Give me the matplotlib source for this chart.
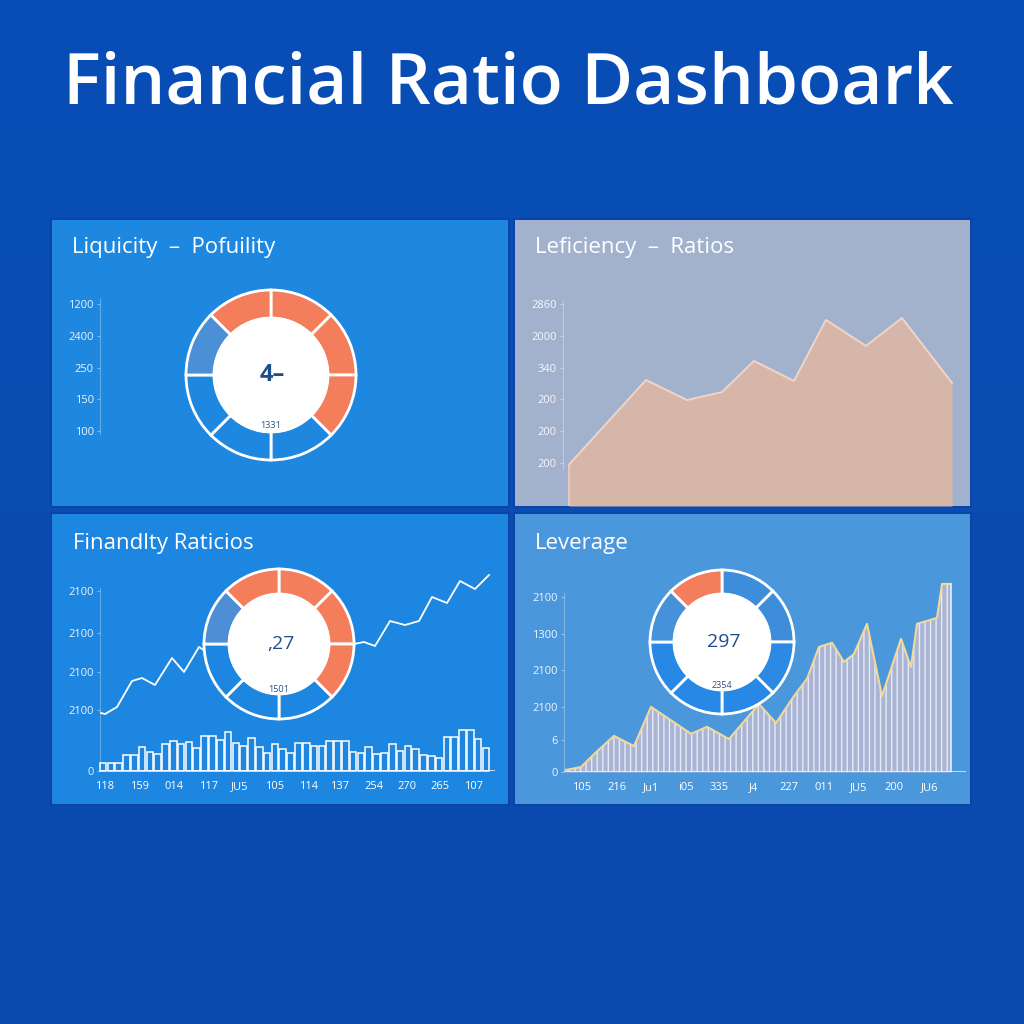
import numpy as np
import matplotlib.pyplot as plt
from matplotlib.patches import Rectangle, Circle
from matplotlib.colors import LinearSegmentedColormap

plt.rcParams['font.family'] = ['Open Sans', 'DejaVu Sans']

# ---- data ----
title = "Financial Ratio Dashboark"

# panel 1: liquidity donut
liq_title = "Liquicity  \u2013  Pofuility"
liq_ticks = [0, 1, 2, 3, 4]
liq_ticklabels = ["100", "150", "250", "2400", "1200"]
liq_segments = [1, 1, 1, 1, 1, 1, 1, 1]
liq_center, liq_sub = "4\u2013", "1331"

# panel 2: efficiency area
eff_title = "Leficiency  \u2013  Ratios"
eff_x = [0.6, 8.3, 12.4, 15.9, 19.1, 23.1, 26.3, 30.3, 33.9, 38.9]
eff_y = [-0.05, 2.61, 1.98, 2.23, 3.21, 2.58, 4.50, 3.68, 4.56, 2.52]
eff_ticks = [0, 1, 2, 3, 4, 5]
eff_ticklabels = ["200", "200", "200", "340", "2000", "2860"]

# panel 3: profitability bars + line + donut
prof_title = "Finandlty Raticios"
prof_bars = [0.8, 0.8, 0.85, 1.6, 1.6, 2.4, 1.9, 1.75, 2.7, 3.0,
             2.7, 2.9, 2.3, 3.5, 3.5, 3.1, 3.9, 2.85, 2.5, 3.3,
             2.4, 1.8, 2.7, 2.2, 1.8, 2.8, 2.8, 2.5, 2.5, 3.0,
             3.0, 3.0, 1.95, 1.85, 2.4, 1.7, 1.85, 2.7, 2.0, 2.5,
             2.2, 1.6, 1.5, 1.35, 3.4, 3.4, 4.1, 4.1, 3.2, 2.3]
prof_line_x = [0.1, 0.5, 1.7, 3.2, 4.2, 5.5, 7.2, 8.4, 9.9, 10.5, 12.5, 15.0,
               18.0, 21.5, 24.0, 25.4, 26.4, 27.5, 29.0, 30.5, 31.9, 33.2,
               34.7, 36.0, 37.5, 38.9]
prof_line_y = [5.8, 5.7, 6.4, 9.0, 9.3, 8.6, 11.3, 9.9, 12.4, 12.0, 13.1, 11.6,
               13.6, 11.9, 13.1, 12.7, 12.9, 12.5, 15.0, 14.6, 15.0, 17.4,
               16.8, 19.0, 18.2, 19.6]
prof_ticks = [0, 6.1, 9.9, 13.8, 18.0]
prof_ticklabels = ["0", "2100", "2100", "2100", "2100"]
prof_xticks = [0.5, 4.0, 7.4, 10.9, 14.0, 17.5, 20.9, 24.0, 27.4, 30.7, 34.0, 37.4]
prof_xlabels = ["118", "159", "014", "117", "JU5", "105", "114", "137", "254",
                "270", "265", "107"]
prof_segments = [1, 1, 1, 1, 1, 1, 1, 1]
prof_center, prof_sub = ",27", "1501"

# panel 4: leverage striped area + donut
lev_title = "Leverage"
lev_x = [0.2, 1.7, 3.0, 5.0, 7.0, 8.7, 12.7, 14.3, 16.5, 19.5, 21.2, 23.0, 24.3,
         25.5, 26.8, 28.0, 29.0, 30.3, 31.8, 33.7, 34.7, 35.3, 37.3, 37.8, 38.7]
lev_y = [0.06, 0.14, 0.51, 1.03, 0.74, 1.86, 1.09, 1.29, 0.94, 1.94, 1.40, 2.17,
         2.66, 3.57, 3.69, 3.14, 3.37, 4.23, 2.17, 3.80, 3.00, 4.23, 4.40, 5.37,
         5.37]
lev_ticks = [0, 0.9, 1.86, 2.9, 3.94, 5.0]
lev_ticklabels = ["0", "6", "2100", "2100", "1300", "2100"]
lev_xticks = [1.8, 5.3, 8.7, 12.2, 15.5, 19.0, 22.5, 26.0, 29.5, 33.0, 36.6]
lev_xlabels = ["105", "216", "Ju1", "i05", "335", "J4", "227", "011", "JU5",
               "200", "JU6"]
lev_segments = [1, 1, 1, 1, 1, 1, 1, 1]
lev_center, lev_sub = "297", "2354"

# ---- colours ----
ORANGE = '#f47d5b'
NAVY = '#1c4d8c'
P1, P2, P3, P4 = '#1e88e0', '#a2b2cd', '#1d86e0', '#4a97dc'
liq_colors = [ORANGE, ORANGE, ORANGE, P1, P1, P1, '#4b8fd6', ORANGE]
prof_colors = [ORANGE, ORANGE, ORANGE, P3, P3, P3, '#4d8ed4', ORANGE]
lev_colors = ['#3d8ddb', '#3d8ddb', '#2c8ae4', '#2788e6', '#2788e6', '#2788e6',
              '#4591da', ORANGE]

W = H = 1024
fig = plt.figure(figsize=(10.24, 10.24), dpi=100)


def px_axes(x0, y0, x1, y1):
    ax = fig.add_axes([x0 / W, 1 - y1 / H, (x1 - x0) / W, (y1 - y0) / H])
    ax.patch.set_alpha(0)
    return ax


def fit_ylim(ax, top, bot, v0, y0, v1, y1):
    k = (y0 - y1) / (v1 - v0)
    ax.set_ylim(v0 - (bot - y0) / k, v0 + (y0 - top) / k)


def style_axis(ax, ticks, labels, spine_lo, spine_hi):
    for s in ['top', 'right', 'bottom']:
        ax.spines[s].set_visible(False)
    ax.spines['left'].set_color((1, 1, 1, 0.3))
    ax.spines['left'].set_linewidth(0.8)
    ax.spines['left'].set_bounds(spine_lo, spine_hi)
    ax.set_yticks(ticks)
    ax.set_yticklabels(labels)
    ax.tick_params(axis='y', length=2.5, width=0.8, color=(1, 1, 1, 0.4),
                   labelcolor='white', labelsize=8, pad=2)
    for t in ax.get_yticklabels():
        t.set_alpha(0.9)


def donut(cx, cy, r_out, r_in, segments, colors, center, sub, size, weight):
    ax = px_axes(cx - r_out, cy - r_out, cx + r_out, cy + r_out)
    wedges, _ = ax.pie(segments, colors=colors, startangle=90, counterclock=False,
                       radius=1, wedgeprops=dict(width=1 - r_in / r_out,
                                                 edgecolor='white', linewidth=2))
    for w in wedges:
        w.set_clip_on(False)
    ax.add_patch(Circle((0, 0), r_in / r_out, facecolor='white', edgecolor='white',
                        linewidth=1.5, clip_on=False))
    ax.set_xlim(-1, 1)
    ax.set_ylim(-1, 1)
    ax.set_aspect('equal')
    ax.axis('off')
    ax.text(0.02, 0.0, center, ha='center', va='center', fontsize=size,
            fontweight=weight, color=NAVY)
    ax.text(0, -0.6, sub, ha='center', va='center', fontsize=6.5, color='#2e4f7e')


# ---- background ----
bg = fig.add_axes([0, 0, 1, 1])
grad = LinearSegmentedColormap.from_list('bg', ['#084eb6', '#0a4cb2', '#0a4aae'])
bg.imshow(np.linspace(0, 1, 1024).reshape(-1, 1), cmap=grad, aspect='auto',
          interpolation='bilinear', extent=[0, W, H, 0])
bg.set_xlim(0, W)
bg.set_ylim(H, 0)
bg.axis('off')
for (x0, y0, x1, y1, c) in [(52, 220, 508, 506, P1), (515, 220, 970, 506, P2),
                            (52, 514, 508, 804, P3), (515, 514, 970, 804, P4)]:
    bg.add_patch(Rectangle((x0 - 2, y0 - 2), x1 - x0 + 4, y1 - y0 + 4,
                           facecolor='#0a45a6', edgecolor='none'))
    bg.add_patch(Rectangle((x0, y0), x1 - x0, y1 - y0, facecolor=c, edgecolor='none'))

fig.text(508 / W, 1 - 103 / H, title, ha='center', va='baseline', fontsize=51,
         fontweight='semibold', color='white')
for (x, y, t) in [(72, 253, liq_title), (535, 253, eff_title),
                  (73, 549, prof_title), (535, 549, lev_title)]:
    fig.text(x / W, 1 - y / H, t, ha='left', va='baseline', fontsize=16,
             color='white')

# ---- panel 1 ----
ax1 = px_axes(100, 290, 500, 440)
fit_ylim(ax1, 290, 440, 0, 431, 4, 304)
style_axis(ax1, liq_ticks, liq_ticklabels, -0.1, 4.15)
ax1.set_xticks([])
donut(271, 375, 85, 57, liq_segments, liq_colors, liq_center, liq_sub, 17, 'bold')

# ---- panel 2 ----
ax2 = px_axes(563, 290, 966, 506)
ax2.set_xlim(0, 40.3)
fit_ylim(ax2, 290, 506, 0, 463, 5, 304)
floor2 = ax2.get_ylim()[0]
ax2.fill_between(eff_x, eff_y, floor2, color='#d7b6aa', linewidth=0)
ax2.plot(eff_x, eff_y, color='#f0d5c8', linewidth=1.4)
ax2.plot([eff_x[0], eff_x[0]], [floor2, eff_y[0]], color='#ead0c4', linewidth=1.2)
style_axis(ax2, eff_ticks, eff_ticklabels, -0.2, 5.1)
ax2.set_xticks([])

# ---- panel 3 ----
ax3 = px_axes(100, 565, 495, 771)
ax3.set_xlim(0, 39.5)
ax3.set_ylim(0, 20.6)
bar_pos = np.linspace(0.3, 38.6, len(prof_bars))
ax3.bar(bar_pos, prof_bars, width=0.66, facecolor='none', edgecolor='white',
        linewidth=1.1, clip_on=False)
ax3.axhline(0, color='white', linewidth=1.2, alpha=0.9)
ax3.plot(prof_line_x, prof_line_y, color='white', linewidth=1.3)
style_axis(ax3, prof_ticks, prof_ticklabels, 0, 18.3)
ax3.set_xticks(prof_xticks)
ax3.set_xticklabels(prof_xlabels)
ax3.tick_params(axis='x', length=0, labelcolor='white', labelsize=8, pad=7)
donut(279, 644, 75, 50, prof_segments, prof_colors, prof_center, prof_sub, 14, 'normal')

# ---- panel 4 ----
ax4 = px_axes(564, 565, 966, 772)
ax4.set_xlim(0, 40.2)
ax4.set_ylim(0, 5.91)
ax4.fill_between(lev_x, lev_y, 0, color='#aab5d6', linewidth=0)
ax4.fill_between(lev_x, lev_y, 0, facecolor='none', edgecolor='#e6eaf5',
                 hatch='|||', linewidth=0)
ax4.plot(lev_x, lev_y, color='#f3d999', linewidth=1.5)
ax4.plot([lev_x[-1], lev_x[-1]], [0, lev_y[-1]], color='#e6eaf5', linewidth=1.2)
ax4.axhline(0, color='white', linewidth=1.2, alpha=0.8)
style_axis(ax4, lev_ticks, lev_ticklabels, 0, 5.1)
ax4.set_xticks(lev_xticks)
ax4.set_xticklabels(lev_xlabels)
ax4.tick_params(axis='x', length=0, labelcolor='white', labelsize=8, pad=7)
donut(722, 642, 72, 48, lev_segments, lev_colors, lev_center, lev_sub, 14, 'normal')

fig.savefig('out.png', dpi=100)
